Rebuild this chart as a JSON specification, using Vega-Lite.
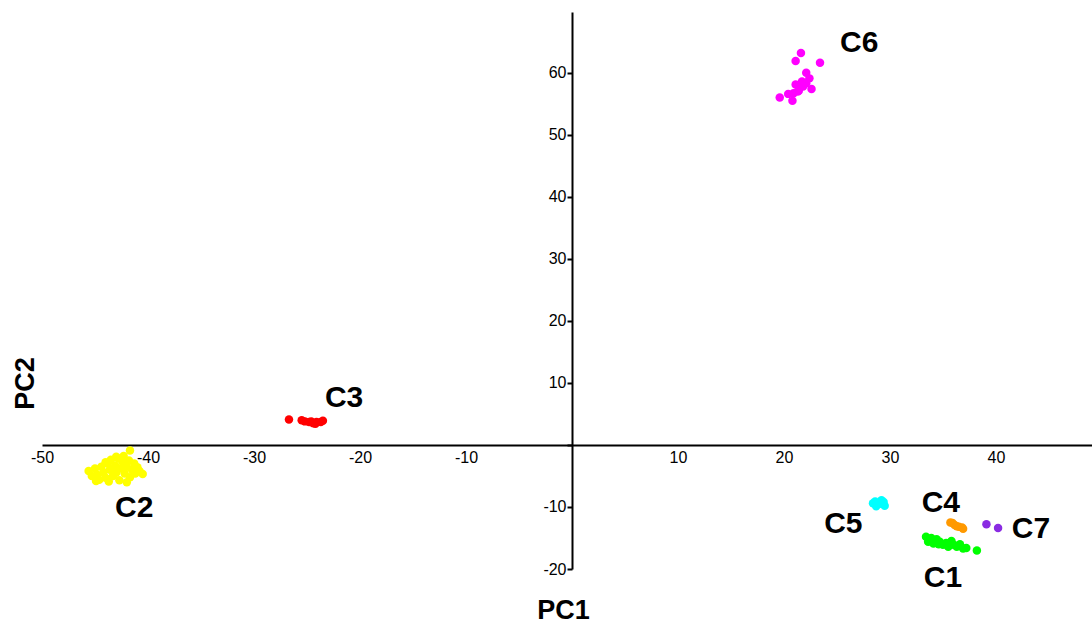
{
  "$schema": "https://vega.github.io/schema/vega-lite/v6.json",
  "width": 1050,
  "height": 557,
  "autosize": {"type": "none"},
  "padding": {"left": 42, "top": 12, "right": 0, "bottom": 57},
  "background": "white",
  "config": {
    "view": {"stroke": null},
    "axis": {"grid": false}
  },
  "datasets": {
    "pts": [
      {"cluster": "C6", "pc1": 21.6, "pc2": 63.2},
      {"cluster": "C6", "pc1": 21.1, "pc2": 61.9},
      {"cluster": "C6", "pc1": 23.4, "pc2": 61.6},
      {"cluster": "C6", "pc1": 22.1, "pc2": 60.0},
      {"cluster": "C6", "pc1": 22.4, "pc2": 59.1},
      {"cluster": "C6", "pc1": 21.7, "pc2": 58.6},
      {"cluster": "C6", "pc1": 21.1, "pc2": 58.1},
      {"cluster": "C6", "pc1": 21.8, "pc2": 57.8},
      {"cluster": "C6", "pc1": 22.6, "pc2": 57.4},
      {"cluster": "C6", "pc1": 21.4, "pc2": 57.1},
      {"cluster": "C6", "pc1": 20.9, "pc2": 56.7},
      {"cluster": "C6", "pc1": 20.4, "pc2": 56.6},
      {"cluster": "C6", "pc1": 19.6, "pc2": 56.0},
      {"cluster": "C6", "pc1": 20.8, "pc2": 55.5},
      {"cluster": "C6", "pc1": 21.3, "pc2": 57.0},
      {"cluster": "C6", "pc1": 22.1, "pc2": 58.3},
      {"cluster": "C3", "pc1": -26.7, "pc2": 4.1},
      {"cluster": "C3", "pc1": -25.5, "pc2": 4.0},
      {"cluster": "C3", "pc1": -25.2, "pc2": 3.8},
      {"cluster": "C3", "pc1": -24.8, "pc2": 3.7},
      {"cluster": "C3", "pc1": -24.6, "pc2": 3.8},
      {"cluster": "C3", "pc1": -24.4, "pc2": 3.5},
      {"cluster": "C3", "pc1": -24.2, "pc2": 3.4},
      {"cluster": "C3", "pc1": -24.1, "pc2": 3.7},
      {"cluster": "C3", "pc1": -23.7, "pc2": 3.7},
      {"cluster": "C3", "pc1": -23.5, "pc2": 3.9},
      {"cluster": "C2", "pc1": -45.6, "pc2": -4.2},
      {"cluster": "C2", "pc1": -45.3, "pc2": -5.0},
      {"cluster": "C2", "pc1": -45.0, "pc2": -3.8},
      {"cluster": "C2", "pc1": -44.8, "pc2": -4.8},
      {"cluster": "C2", "pc1": -44.6, "pc2": -5.6},
      {"cluster": "C2", "pc1": -44.4, "pc2": -3.5},
      {"cluster": "C2", "pc1": -44.2, "pc2": -4.4},
      {"cluster": "C2", "pc1": -44.0, "pc2": -5.3},
      {"cluster": "C2", "pc1": -43.8, "pc2": -3.0},
      {"cluster": "C2", "pc1": -43.6, "pc2": -4.0},
      {"cluster": "C2", "pc1": -43.5, "pc2": -2.4},
      {"cluster": "C2", "pc1": -43.3, "pc2": -5.0},
      {"cluster": "C2", "pc1": -43.1, "pc2": -3.3},
      {"cluster": "C2", "pc1": -43.0, "pc2": -4.5},
      {"cluster": "C2", "pc1": -42.8, "pc2": -2.2},
      {"cluster": "C2", "pc1": -42.7, "pc2": -5.7},
      {"cluster": "C2", "pc1": -42.5, "pc2": -3.8},
      {"cluster": "C2", "pc1": -42.4, "pc2": -2.8},
      {"cluster": "C2", "pc1": -42.2, "pc2": -4.6},
      {"cluster": "C2", "pc1": -42.0, "pc2": -3.5},
      {"cluster": "C2", "pc1": -41.8, "pc2": -2.5},
      {"cluster": "C2", "pc1": -41.7, "pc2": -5.2},
      {"cluster": "C2", "pc1": -41.5, "pc2": -4.0},
      {"cluster": "C2", "pc1": -41.3, "pc2": -3.0},
      {"cluster": "C2", "pc1": -41.2, "pc2": -4.6},
      {"cluster": "C2", "pc1": -41.0, "pc2": -3.6},
      {"cluster": "C2", "pc1": -40.8, "pc2": -4.2},
      {"cluster": "C2", "pc1": -40.5, "pc2": -4.7},
      {"cluster": "C2", "pc1": -44.0, "pc2": -2.8},
      {"cluster": "C2", "pc1": -43.0, "pc2": -1.9},
      {"cluster": "C2", "pc1": -42.3, "pc2": -1.8},
      {"cluster": "C2", "pc1": -44.9, "pc2": -5.8},
      {"cluster": "C2", "pc1": -43.7, "pc2": -5.9},
      {"cluster": "C2", "pc1": -42.0, "pc2": -6.0},
      {"cluster": "C2", "pc1": -41.7, "pc2": -0.9},
      {"cluster": "C5", "pc1": 28.4, "pc2": -9.4},
      {"cluster": "C5", "pc1": 28.7, "pc2": -9.9},
      {"cluster": "C5", "pc1": 29.2, "pc2": -8.9},
      {"cluster": "C5", "pc1": 29.5, "pc2": -9.8},
      {"cluster": "C5", "pc1": 29.1, "pc2": -9.5},
      {"cluster": "C5", "pc1": 28.6, "pc2": -9.1},
      {"cluster": "C5", "pc1": 29.4, "pc2": -9.2},
      {"cluster": "C4", "pc1": 35.7, "pc2": -12.5},
      {"cluster": "C4", "pc1": 35.9, "pc2": -12.6},
      {"cluster": "C4", "pc1": 36.1, "pc2": -12.9},
      {"cluster": "C4", "pc1": 36.3, "pc2": -13.1},
      {"cluster": "C4", "pc1": 36.5, "pc2": -13.2},
      {"cluster": "C4", "pc1": 36.8, "pc2": -13.3},
      {"cluster": "C4", "pc1": 36.9, "pc2": -13.5},
      {"cluster": "C7", "pc1": 39.1, "pc2": -12.8},
      {"cluster": "C7", "pc1": 40.2, "pc2": -13.4},
      {"cluster": "C1", "pc1": 33.4, "pc2": -14.8},
      {"cluster": "C1", "pc1": 33.8, "pc2": -15.3},
      {"cluster": "C1", "pc1": 34.1, "pc2": -15.9},
      {"cluster": "C1", "pc1": 34.4, "pc2": -15.2},
      {"cluster": "C1", "pc1": 34.7, "pc2": -15.6},
      {"cluster": "C1", "pc1": 35.0, "pc2": -16.1},
      {"cluster": "C1", "pc1": 35.3, "pc2": -15.8},
      {"cluster": "C1", "pc1": 35.8, "pc2": -15.5},
      {"cluster": "C1", "pc1": 36.0, "pc2": -16.1},
      {"cluster": "C1", "pc1": 36.3, "pc2": -16.4},
      {"cluster": "C1", "pc1": 36.6, "pc2": -16.0},
      {"cluster": "C1", "pc1": 36.9, "pc2": -16.7},
      {"cluster": "C1", "pc1": 37.2, "pc2": -16.6},
      {"cluster": "C1", "pc1": 38.2, "pc2": -17.0},
      {"cluster": "C1", "pc1": 33.9, "pc2": -15.0},
      {"cluster": "C1", "pc1": 34.6, "pc2": -16.0},
      {"cluster": "C1", "pc1": 35.5, "pc2": -16.4},
      {"cluster": "C1", "pc1": 33.6, "pc2": -15.6}
    ],
    "labels": [
      {"cluster": "C6", "pc1": 27.1, "pc2": 64.8},
      {"cluster": "C3", "pc1": -21.5, "pc2": 7.6},
      {"cluster": "C2", "pc1": -41.3, "pc2": -10.2},
      {"cluster": "C5", "pc1": 25.6, "pc2": -12.8},
      {"cluster": "C4", "pc1": 34.8, "pc2": -9.35},
      {"cluster": "C7", "pc1": 43.3, "pc2": -13.6},
      {"cluster": "C1", "pc1": 35.0, "pc2": -21.5}
    ]
  },
  "layer": [
    {
      "data": {"name": "pts"},
      "mark": {"type": "circle", "size": 72, "opacity": 1},
      "encoding": {
        "x": {
          "field": "pc1", "type": "quantitative",
          "scale": {"domain": [-50, 49.06], "nice": false, "zero": false},
          "axis": {
            "orient": "bottom", "offset": -124,
            "values": [-50, -40, -30, -20, -10, 0, 10, 20, 30, 40],
            "labelExpr": "datum.value == 0 ? '' : '' + datum.value",
            "labelFlush": false, "labelOverlap": false,
            "ticks": false, "labelPadding": 4,
            "domainColor": "black", "domainWidth": 2,
            "labelFont": "Liberation Sans", "labelFontSize": 16, "labelColor": "black",
            "title": "PC1", "titleFont": "Liberation Sans", "titleFontSize": 27, "titleFontWeight": "bold", "titleColor": "black",
            "titleX": 521, "titleY": 165, "titleAlign": "center", "titleBaseline": "middle"
          }
        },
        "y": {
          "field": "pc2", "type": "quantitative",
          "scale": {"domain": [-20, 69.8], "nice": false, "zero": false},
          "axis": {
            "orient": "left", "offset": -530,
            "values": [-20, -10, 0, 10, 20, 30, 40, 50, 60],
            "labelExpr": "datum.value == 0 ? '' : '' + datum.value",
            "labelFlush": false, "labelOverlap": false,
            "ticks": true, "tickSize": 5, "tickWidth": 2, "tickColor": "black", "labelPadding": 1,
            "domainColor": "black", "domainWidth": 2,
            "labelFont": "Liberation Sans", "labelFontSize": 16, "labelColor": "black",
            "title": "PC2", "titleFont": "Liberation Sans", "titleFontSize": 27, "titleFontWeight": "bold", "titleColor": "black",
            "titleX": -547, "titleY": 371, "titleAngle": 270, "titleAlign": "center", "titleBaseline": "middle"
          }
        },
        "color": {
          "field": "cluster", "type": "nominal",
          "scale": {
            "domain": ["C1", "C2", "C3", "C4", "C5", "C6", "C7"],
            "range": ["#00FF00", "#FFFF00", "#FF0000", "#FF9900", "#00FFFF", "#FF00FF", "#8A2BE2"]
          },
          "legend": null
        }
      }
    },
    {
      "data": {"name": "labels"},
      "mark": {"type": "text", "font": "Liberation Sans", "fontSize": 30, "fontWeight": "bold", "color": "black", "align": "center", "baseline": "middle"},
      "encoding": {
        "x": {"field": "pc1", "type": "quantitative"},
        "y": {"field": "pc2", "type": "quantitative"},
        "text": {"field": "cluster", "type": "nominal"}
      }
    }
  ]
}
